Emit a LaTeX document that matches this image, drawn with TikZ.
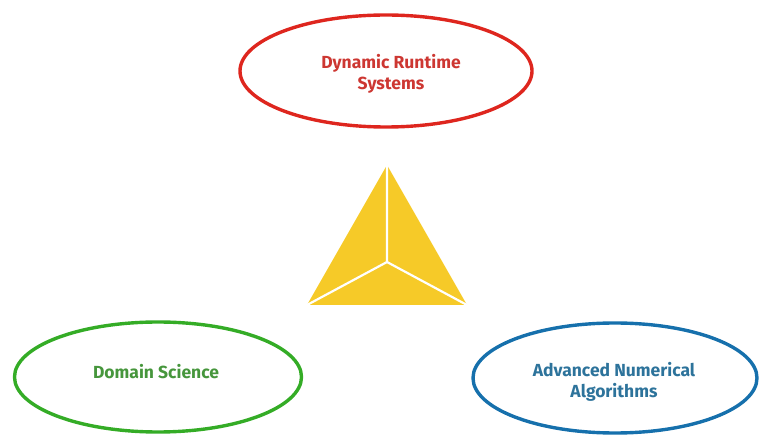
\documentclass[tikz,border=0pt]{standalone}
\usepackage{fontspec}
\setmainfont{Fira Sans}
\usetikzlibrary{shapes.geometric}
\definecolor{rtred}{RGB}{222,38,30}
\definecolor{rtredtext}{RGB}{205,55,50}
\definecolor{dsgreen}{RGB}{52,172,38}
\definecolor{dsgreentext}{RGB}{70,150,60}
\definecolor{nablue}{RGB}{22,112,172}
\definecolor{nabluetext}{RGB}{45,115,155}
\definecolor{triyellow}{RGB}{246,202,40}
\tikzset{
  topic/.style={ellipse, line width=3.4pt, minimum width=#1, minimum height=110pt, inner sep=0pt},
  topictext/.style={align=center, inner sep=0pt, font=\fontsize{17.5}{21}\selectfont\bfseries},
}
\begin{document}
\begin{tikzpicture}[x=1pt,y=-1pt]
\useasboundingbox (0,0) rectangle (761,438);
\node[topic=292pt, draw=rtred, minimum height=112pt] (rt) at (386,71) {};
\node[topic=287pt, draw=dsgreen] (ds) at (158,377) {};
\node[topic=284pt, draw=nablue] (na) at (615,378) {};
\node[topictext, text=rtredtext] (rtt) at (391,74) {Dynamic Runtime\\Systems};
\node[topictext, text=dsgreentext] (dst) at (156,372) {Domain Science};
\node[topictext, text=nabluetext] (nat) at (614,382) {Advanced Numerical\\Algorithms};
\coordinate (apex) at (387,165);
\coordinate (bl) at (307,305);
\coordinate (br) at (467,305);
\coordinate (ctr) at (387,262);
\fill[triyellow] (apex) -- (br) -- (bl) -- cycle;
\draw[white, line width=2.2pt] (apex) -- (ctr) (bl) -- (ctr) -- (br);
\end{tikzpicture}
\end{document}
